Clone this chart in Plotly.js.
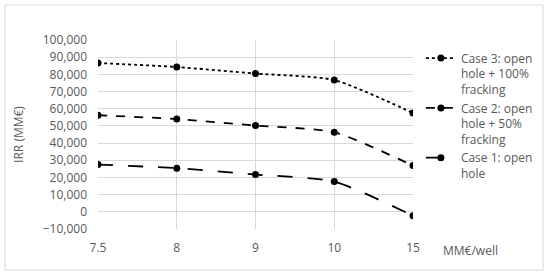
<!DOCTYPE html>
<html>
<head>
<meta charset="utf-8">
<script src="https://cdn.plot.ly/plotly-3.0.1.min.js"></script>
<style>body{margin:0;padding:0;background:#fff;}</style>
</head>
<body>
<div id="chart" style="width:550px;height:276px;"></div>
<script>
var costs = ['7.5', '8', '9', '10', '15'];

var case1 = [27500, 25400, 21700, 17600, -2300];
var case2 = [56200, 54000, 50200, 46300, 26900];
var case3 = [86600, 84300, 80500, 76700, 57500];

var names = ['Case 1: open<br>hole', 'Case 2: open<br>hole + 50%<br>fracking', 'Case 3: open<br>hole + 100%<br>fracking'];

function mk(vals, name, dash) {
  return {
    x: costs,
    y: vals,
    name: name,
    type: 'scatter',
    mode: 'lines+markers',
    line: {color: '#000', width: 1.8, dash: dash, shape: 'spline', smoothing: 0.6},
    marker: {color: '#000', size: 7}
  };
}

var data = [
  mk(case1, names[0], 'longdash'),
  mk(case2, names[1], 'dash'),
  mk(case3, names[2], 'dot')
];

var layout = {
  width: 550,
  height: 276,
  margin: {l: 98, r: 137, t: 40, b: 47},
  paper_bgcolor: '#fff',
  plot_bgcolor: '#fff',
  font: {family: 'Open Sans, sans-serif', size: 12, color: '#595959'},
  showlegend: true,
  legend: {
    x: 1.025, y: 0.98, xanchor: 'left', yanchor: 'top',
    traceorder: 'reversed',
    valign: 'top',
    font: {size: 12, color: '#595959'},
    tracegroupgap: 3,
    itemwidth: 30
  },
  xaxis: {
    type: 'category',
    range: [0, 4],
    showgrid: true,
    gridcolor: '#d9d9d9',
    zeroline: false,
    showline: false,
    ticks: '',
    ticklabelstandoff: 10,
    tickfont: {size: 12, color: '#595959'}
  },
  yaxis: {
    range: [-10000, 100000],
    dtick: 10000,
    tickformat: ',',
    showgrid: true,
    gridcolor: '#d9d9d9',
    zeroline: false,
    showline: false,
    ticks: '',
    ticklabelstandoff: 10,
    tickfont: {size: 12, color: '#595959'},
    title: {text: 'IRR (MM€)', font: {size: 12, color: '#595959'}, standoff: 16}
  },
  annotations: [{
    xref: 'paper', yref: 'paper',
    x: 1.09, y: -0.06, xanchor: 'left', yanchor: 'top',
    text: 'MM€/well', showarrow: false,
    font: {size: 12, color: '#595959'}
  }],
  shapes: [{
    type: 'rect', xref: 'paper', yref: 'paper',
    x0: -0.295, x1: 1.413, y0: -0.217, y1: 1.185,
    line: {color: '#d9d9d9', width: 1}
  }]
};

Plotly.newPlot('chart', data, layout, {displayModeBar: false});
</script>
</body>
</html>
